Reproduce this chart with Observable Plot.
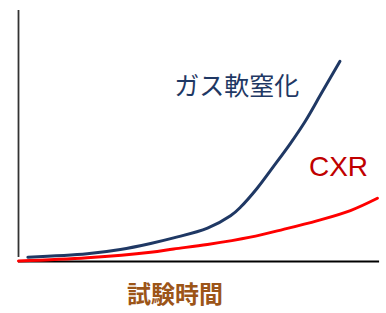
<!DOCTYPE html>
<html>
<head>
<meta charset="utf-8">
<script src="https://cdn.jsdelivr.net/npm/d3@7"></script>
<script src="https://cdn.jsdelivr.net/npm/@observablehq/plot@0.6"></script>
<style>
  html, body { margin: 0; padding: 0; background: #fff; }
</style>
</head>
<body>
<div id="chart"></div>
<script>
// Test time (arbitrary units 0-100) and wear amount (arbitrary units 0-100)
const gasTime  = [2.6, 19.1, 28.3, 36.7, 43.1, 52.5, 58.9, 61.7, 66.3, 70.8, 75.6, 79.7, 83.9, 89.3];
const gasValue = [1.7, 3.1, 4.8, 7.2, 9.4, 13.3, 18.2, 21.7, 29.2, 37.8, 47.2, 56.0, 66.4, 79.8];
const cxrTime  = [0, 19.1, 36.7, 43.1, 52.5, 64.4, 73.6, 83.1, 92.2, 99.7];
const cxrValue = [0.2, 1.5, 3.7, 5.0, 6.8, 9.7, 12.8, 16.3, 20.3, 25.2];

const seriesNames = ["ガス軟窒化", "CXR"];
const labelX = [60.6, 88.9];
const labelY = [69.5, 37.6];
const xTitle = "試験時間";

const gas = gasTime.map((t, i) => ({t, v: gasValue[i]}));
const cxr = cxrTime.map((t, i) => ({t, v: cxrValue[i]}));

const chart = Plot.plot({
  width: 386,
  height: 313,
  marginLeft: 18,
  marginRight: 8,
  marginTop: 10,
  marginBottom: 52,
  x: {domain: [0, 100], axis: null},
  y: {domain: [0, 100], axis: null},
  style: {background: "#fff", overflow: "visible"},
  marks: [
    Plot.ruleX([0], {y1: 1.6, y2: 100, stroke: "#333", strokeWidth: 1.8}),
    Plot.ruleY([0], {x1: 0, x2: 100.3, stroke: "#000", strokeWidth: 2}),
    Plot.line(gas, {x: "t", y: "v", stroke: "#1F3864", strokeWidth: 3, curve: "catmull-rom"}),
    Plot.line(cxr, {x: "t", y: "v", stroke: "#FF0000", strokeWidth: 3, curve: "catmull-rom"}),
    Plot.text([seriesNames[0]], {x: labelX[0], y: labelY[0], text: d => d, fill: "#1F3864",
      fontSize: 25, fontFamily: "Noto Sans CJK JP", textAnchor: "middle"}),
    Plot.text([seriesNames[1]], {x: labelX[1], y: labelY[1], text: d => d, fill: "#C00000",
      fontSize: 28, fontFamily: "Liberation Sans", textAnchor: "middle"}),
    Plot.text([xTitle], {x: 43.5, y: -13.3, text: d => d, fill: "#9C5518",
      fontSize: 24, fontWeight: "bold", fontFamily: "Noto Sans CJK JP", textAnchor: "middle"})
  ]
});
document.getElementById("chart").appendChild(chart);
</script>
</body>
</html>
